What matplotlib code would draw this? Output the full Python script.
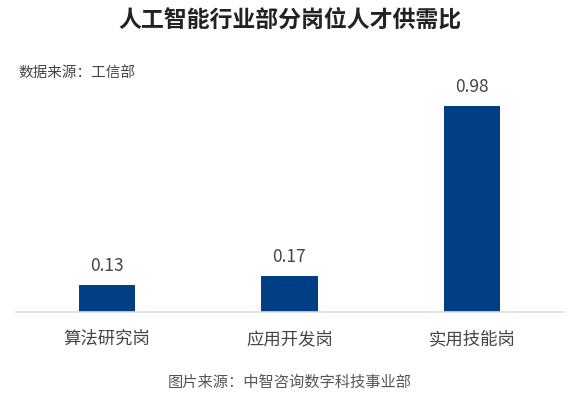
import matplotlib.pyplot as plt

plt.rcParams["font.family"] = ["Noto Sans CJK SC", "DejaVu Sans"]

categories = ["算法研究岗", "应用开发岗", "实用技能岗"]
ratios = [0.13, 0.17, 0.98]
value_labels = ["0.13", "0.17", "0.98"]

bar_color = "#003f84"

fig = plt.figure(figsize=(5.8, 4.0), dpi=100)
ax = fig.add_axes([0.0276, 0.22, 0.943, 0.63])

positions = list(range(len(categories)))
ax.bar(positions, ratios, width=0.31, color=bar_color, zorder=2)

for x, v, lab in zip(positions, ratios, value_labels):
    ax.annotate(lab, (x, v), xytext=(0, 10), textcoords="offset points",
                ha="center", va="baseline", fontsize=12.5, color="#444444")

ax.set_xlim(-0.5, 2.5)
ax.set_ylim(0, 1.2)
ax.set_xticks(positions)
ax.set_xticklabels(categories, fontsize=12.5, color="#444444")
ax.tick_params(axis="x", length=0, pad=13)
ax.set_yticks([])

for side in ["top", "right", "left"]:
    ax.spines[side].set_visible(False)
ax.spines["bottom"].set_color("#dddddd")
ax.spines["bottom"].set_linewidth(1.2)

fig.text(0.5, 0.95, "人工智能行业部分岗位人才供需比", ha="center", va="center",
         fontsize=16.5, fontweight="bold", color="#222222")
fig.text(0.031, 0.818, "数据来源：工信部", ha="left", va="center",
         fontsize=10.5, color="#444444")
fig.text(0.5, 0.045, "图片来源：中智咨询数字科技事业部", ha="center", va="center",
         fontsize=11, color="#555555")

fig.savefig("out.png", dpi=100, facecolor="white")
plt.close(fig)
